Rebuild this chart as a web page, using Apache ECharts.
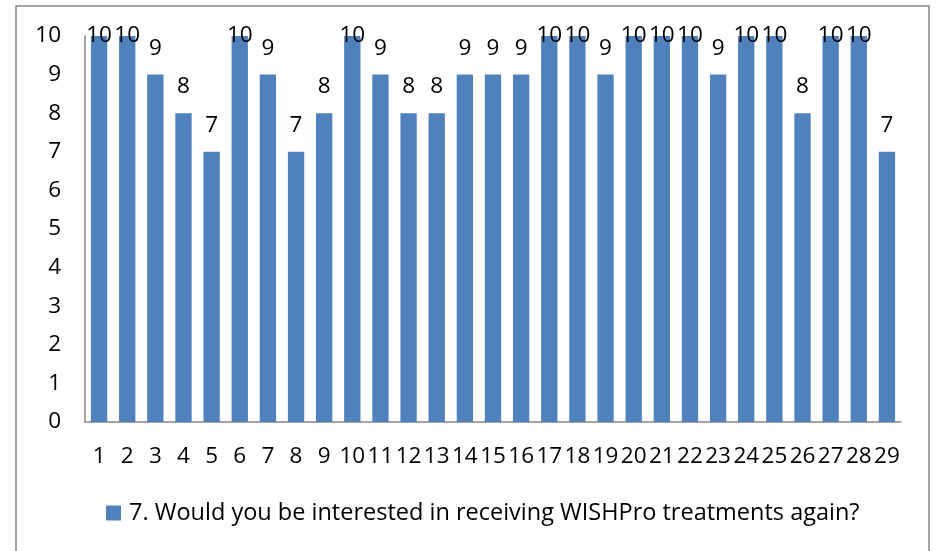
<!DOCTYPE html>
<html>
<head>
<meta charset="utf-8">
<script src="https://cdn.jsdelivr.net/npm/echarts@6/dist/echarts.min.js"></script>
<style>html,body{margin:0;padding:0;background:#fff;}#c{width:937px;height:551px;}</style>
</head>
<body>
<div id="c"></div>
<script>
var categories = ['1','2','3','4','5','6','7','8','9','10','11','12','13','14','15','16','17','18','19','20','21','22','23','24','25','26','27','28','29'];
var values = [10,10,9,8,7,10,9,7,8,10,9,8,8,9,9,9,10,10,9,10,10,10,9,10,10,8,10,10,7];
var seriesName = '7. Would you be interested in receiving WISHPro treatments again?';
var yTicks = [0,1,2,3,4,5,6,7,8,9,10];

var FONT = 'Open Sans';
var FS = 22.5;
var LEGEND_FS = 23.5;
var yMax = yTicks[yTicks.length - 1];
var data = values.map(function (v) {
  var item = { value: v };
  if (v >= yMax) item.label = { offset: [0, 26] };
  return item;
});

var chart = echarts.init(document.getElementById('c'));
chart.setOption({
  animation: false,
  backgroundColor: '#fff',
  textStyle: { fontFamily: FONT, color: '#000' },
  graphic: [{
    type: 'rect', shape: { x: 16, y: 6, width: 913, height: 560 },
    style: { fill: 'none', stroke: '#868686', lineWidth: 1.5 }, silent: true, z: -1
  }],
  grid: { left: 85, right: 36, top: 36, bottom: 129, containLabel: false },
  legend: {
    data: [seriesName], bottom: 21, left: 101,
    itemWidth: 15, itemHeight: 15, itemGap: 5,
    icon: 'rect',
    textStyle: { fontFamily: FONT, fontSize: LEGEND_FS, color: '#000', padding: [0, 0, 0, 3] }
  },
  xAxis: {
    type: 'category', data: categories,
    axisLine: { lineStyle: { color: '#868686', width: 1.5 } },
    axisTick: { show: false },
    axisLabel: { interval: 0, fontFamily: FONT, fontSize: FS, color: '#000', margin: 23 }
  },
  yAxis: {
    type: 'value', min: yTicks[0], max: yMax, interval: 1,
    axisLine: { show: true, lineStyle: { color: '#868686', width: 1.5 } },
    axisTick: { show: false },
    splitLine: { show: false },
    axisLabel: { fontFamily: FONT, fontSize: FS, color: '#000', margin: 24 }
  },
  series: [{
    name: seriesName, type: 'bar', data: data,
    barCategoryGap: '42%',
    itemStyle: { color: '#4F81BD' },
    label: { show: true, position: 'top', distance: 15, fontFamily: FONT, fontSize: FS, color: '#000' }
  }]
});
</script>
</body>
</html>
